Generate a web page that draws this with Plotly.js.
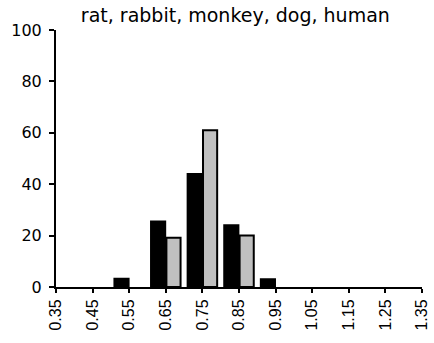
<!DOCTYPE html>
<html>
<head>
<meta charset="utf-8">
<script src="https://cdn.plot.ly/plotly-3.0.1.min.js"></script>
<style>
  html, body { margin: 0; padding: 0; background: #fff; }
  #chart { width: 434px; height: 343px; }
</style>
</head>
<body>
<div id="chart"></div>
<script>
// Bin centres and percentage of samples per bin for the two groups
// (null = empty bin, nothing drawn)
const bins = [0.55, 0.65, 0.75, 0.85, 0.95];
const seriesBlack = [3.2, 25.5, 44, 24, 3];
const seriesGray = [null, 19.2, 61, 20, null];

// Axis tick positions and labels
const xTickVals = [0.35, 0.45, 0.55, 0.65, 0.75, 0.85, 0.95, 1.05, 1.15, 1.25, 1.35];
const xTickText = ['0.35', '0.45', '0.55', '0.65', '0.75', '0.85', '0.95', '1.05', '1.15', '1.25', '1.35'];
const yTickVals = [0, 20, 40, 60, 80, 100];

const titleText = 'rat, rabbit, monkey, dog, human';

const traces = [
  {
    type: 'bar',
    x: bins,
    y: seriesBlack,
    marker: { color: '#000000', line: { color: '#000000', width: 2 } },
    hoverinfo: 'x+y'
  },
  {
    type: 'bar',
    x: bins,
    y: seriesGray,
    marker: { color: '#c0c0c0', line: { color: '#000000', width: 2 } },
    hoverinfo: 'x+y'
  }
];

const layout = {
  width: 434,
  height: 343,
  margin: { l: 56, r: 12, t: 30, b: 56, pad: 0 },
  paper_bgcolor: '#ffffff',
  plot_bgcolor: '#ffffff',
  showlegend: false,
  barmode: 'group',
  bargap: 0.16,
  bargroupgap: 0.08,
  title: {
    text: titleText,
    font: { family: 'DejaVu Sans', size: 19, color: '#000000' },
    xref: 'paper',
    x: 0.49,
    xanchor: 'center',
    yref: 'container',
    y: 0.955,
    yanchor: 'middle'
  },
  xaxis: {
    type: 'linear',
    range: [0.35, 1.35],
    tickmode: 'array',
    tickvals: xTickVals,
    ticktext: xTickText,
    tickangle: -90,
    ticks: 'outside',
    ticklen: 4,
    tickwidth: 2,
    tickcolor: '#000000',
    showline: true,
    linecolor: '#000000',
    linewidth: 2,
    showgrid: false,
    zeroline: false,
    tickfont: { family: 'Liberation Sans, Arial', size: 16, color: '#000000' },
    fixedrange: true
  },
  yaxis: {
    range: [0, 100],
    tickmode: 'array',
    tickvals: yTickVals,
    ticks: 'outside',
    ticklen: 5,
    tickwidth: 2,
    tickcolor: '#000000',
    ticklabelstandoff: 4,
    showline: true,
    linecolor: '#000000',
    linewidth: 2,
    showgrid: false,
    zeroline: false,
    tickfont: { family: 'DejaVu Sans', size: 16, color: '#000000' },
    fixedrange: true
  }
};

Plotly.newPlot('chart', traces, layout, { displayModeBar: false, staticPlot: true });
</script>
</body>
</html>
